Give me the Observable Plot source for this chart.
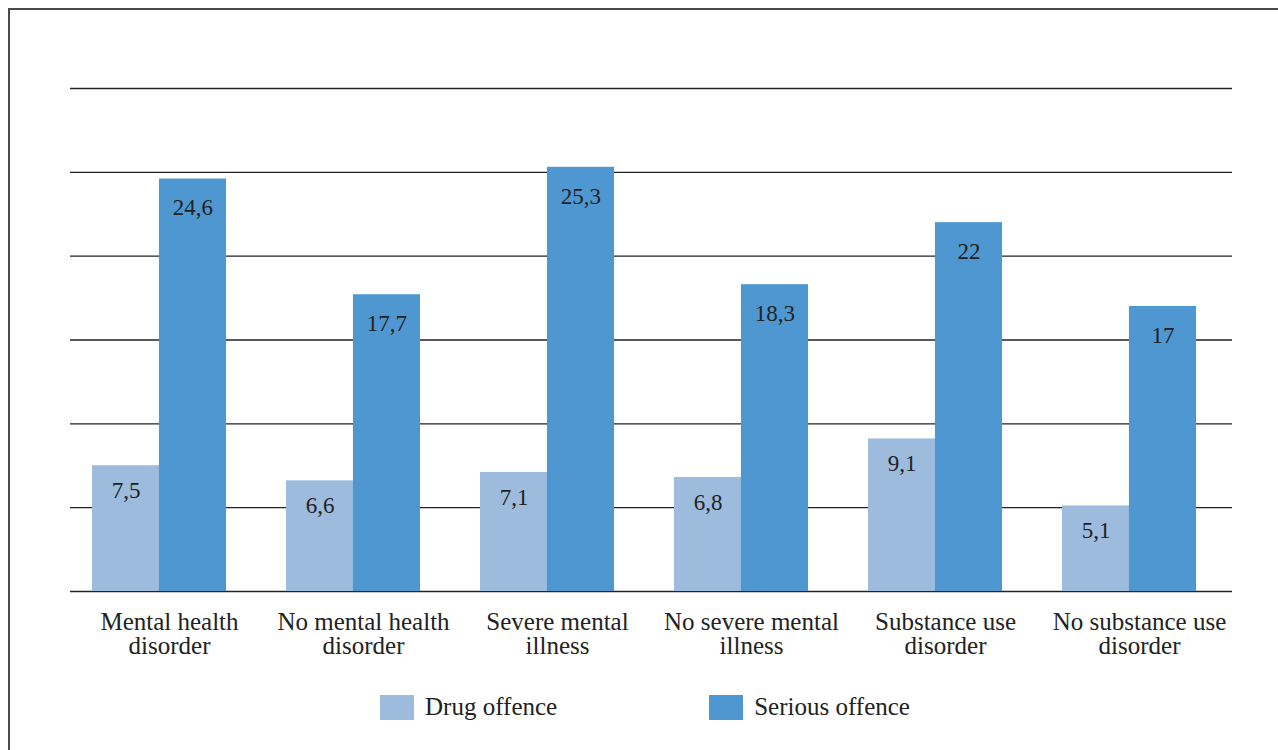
<!DOCTYPE html>
<html>
<head>
<meta charset="utf-8">
<script src="https://cdn.jsdelivr.net/npm/d3@7"></script>
<script src="https://cdn.jsdelivr.net/npm/@observablehq/plot@0.6"></script>
<style>
  html, body { margin: 0; padding: 0; background: #fff; overflow: hidden; }
  #frame { position: absolute; left: 8px; top: 8px; width: 2000px; height: 2000px;
           border-left: 2px solid #4a4a4a; border-top: 2px solid #4a4a4a; }
  #chart { position: absolute; left: 0; top: 0; }
  #legend { position: absolute; left: 0; top: 693px; width: 1290px; display: flex; justify-content: center;
            font-family: 'Liberation Serif', 'Times New Roman', serif; font-size: 25px; color: #222; }
  .item { display: flex; align-items: center; margin: 0 76px; }
  .sw { width: 34px; height: 25px; margin-right: 11px; }
</style>
</head>
<body>
<div id="frame"></div>
<div id="chart"></div>
<div id="legend"></div>
<script>
const categories = ["Mental health disorder", "No mental health disorder", "Severe mental illness",
  "No severe mental illness", "Substance use disorder", "No substance use disorder"];
const categoryLabels = ["Mental health\ndisorder", "No mental health\ndisorder", "Severe mental\nillness",
  "No severe mental\nillness", "Substance use\ndisorder", "No substance use\ndisorder"];
const series = ["Drug offence", "Serious offence"];
const drugOffence = [7.5, 6.6, 7.1, 6.8, 9.1, 5.1];
const seriousOffence = [24.6, 17.7, 25.3, 18.3, 22, 17];
const gridTicks = [0, 5, 10, 15, 20, 25, 30];
const colors = ["#9dbcdd", "#4f97d1"];

const data = categories.flatMap((c, i) => [
  {category: c, series: series[0], value: drugOffence[i]},
  {category: c, series: series[1], value: seriousOffence[i]}
]);
const drugData = data.filter(d => d.series === series[0]);
const seriousData = data.filter(d => d.series === series[1]);

const width = 1278, height = 680;
const ml = 62, mr = 52, mt = 88, mb = 89;
const pi = 0.31, po = 0.155;
const step = (width - ml - mr) / (categories.length - pi + 2 * po);
const bw = step * (1 - pi);
const fmt = v => String(v).replace(".", ",");
const labelOf = Object.fromEntries(categories.map((c, i) => [c, categoryLabels[i]]));

const plot = Plot.plot({
  width, height,
  marginLeft: ml, marginRight: mr, marginTop: mt, marginBottom: mb,
  style: {fontFamily: "'Liberation Serif', 'Times New Roman', serif", color: "#222", background: "transparent", overflow: "visible"},
  x: {domain: categories, paddingInner: pi, paddingOuter: po, axis: null},
  y: {domain: [0, 30], axis: null},
  color: {domain: series, range: colors},
  marks: [
    Plot.ruleY(gridTicks, {stroke: "#222", strokeWidth: 1.3, insetLeft: 8, insetRight: -6}),
    Plot.barY(drugData, {x: "category", y: "value", fill: "series", insetRight: bw / 2}),
    Plot.barY(seriousData, {x: "category", y: "value", fill: "series", insetLeft: bw / 2}),
    Plot.text(drugData, {x: "category", y: "value", text: d => fmt(d.value), dx: -bw / 4, dy: 25, fontSize: 23, fill: "#222"}),
    Plot.text(seriousData, {x: "category", y: "value", text: d => fmt(d.value), dx: bw / 4, dy: 29, fontSize: 23, fill: "#222"}),
    Plot.axisX({tickSize: 0, tickPadding: 21, dx: 10, fontSize: 25, lineHeight: 0.98, label: null,
      tickFormat: d => labelOf[d], fill: "#222"})
  ]
});
document.getElementById("chart").appendChild(plot);

const color = plot.scale("color");
const legend = d3.select("#legend");
series.forEach(s => {
  const item = legend.append("div").attr("class", "item");
  item.append("div").attr("class", "sw").style("background", color.apply(s));
  item.append("span").text(s);
});
</script>
</body>
</html>
